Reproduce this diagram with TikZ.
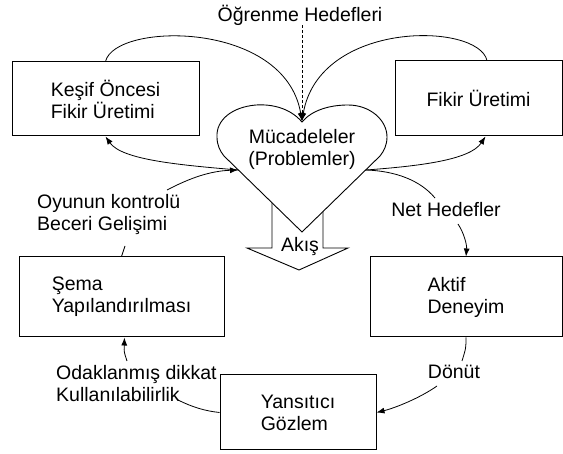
\documentclass[tikz,border=0pt]{standalone}
\usepackage{fontspec}
\setmainfont{Liberation Sans}
\usetikzlibrary{arrows.meta}
\begin{document}
\begin{tikzpicture}[x=1pt,y=-1pt,
  box/.style={draw, line width=1pt, align=left, inner sep=0pt, font=\fontsize{19.5}{22}\selectfont},
  lbl/.style={inner sep=0pt, font=\fontsize{19.5}{22}\selectfont},
  conn/.style={line width=0.8pt},
  arr/.style={conn, -{Latex[length=8pt,width=6pt]}}]
\useasboundingbox (0,0) rectangle (563,454);
% boxes
\node[box, minimum width=187pt, minimum height=74pt] (kesif) at (105.5,99) {Keşif Öncesi\\Fikir Üretimi};
\node[box, minimum width=167pt, minimum height=75pt] (fikir) at (478.5,98.5) {Fikir Üretimi};
\node[box, minimum width=205pt, minimum height=80pt] (sema) at (121.5,297) {Şema\\Yapılandırılması};
\node[box, minimum width=192pt, minimum height=80pt] (aktif) at (466,297) {Aktif\\Deneyim};
\node[box, minimum width=156pt, minimum height=75pt] (yans) at (298,412.5) {Yansıtıcı\\Gözlem};
% block arrow
\draw[line width=0.9pt, fill=white] (272,190) -- (272,248) -- (247,248) -- (299,270) -- (348,248) -- (323,248) -- (323,190) -- cycle;
\node[lbl] (akis) at (300,247) {Akış};
% heart
\draw[line width=0.9pt, fill=white] (302,122) .. controls (290,108) and (272,104) .. (256,105)
  .. controls (232,107) and (216,120) .. (217,137) .. controls (217,145) and (220,151) .. (224,156)
  -- (302,232) -- (380,156) .. controls (384,151) and (387,145) .. (387,137)
  .. controls (387,120) and (370,105) .. (348,105) .. controls (330,105) and (312,110) .. cycle;
\node[lbl, align=center] (muc) at (302,149) {Mücadeleler\\(Problemler)};
\coordinate (dip) at (302,121);
\coordinate (hl) at (238,170);
\coordinate (hr) at (366,170);
% labels
\node[lbl] (ogr) at (300,15) {Öğrenme Hedefleri};
\node[lbl, align=left, anchor=west] (oyun) at (37,214.5) {Oyunun kontrolü\\Beceri Gelişimi};
\node[lbl] (net) at (446,210) {Net Hedefler};
\node[lbl] (donut) at (454,372) {Dönüt};
\node[lbl, align=left, anchor=west] (odak) at (56,383.5) {Odaklanmış dikkat\\Kullanılabilirlik};
\coordinate (oy1) at (167,190);
\coordinate (bg) at (125,246);
\coordinate (nh1) at (435,198);
\coordinate (nh2) at (458,224);
\coordinate (dn1) at (462,361);
\coordinate (dn2) at (437,386);
\coordinate (ku1) at (178,400);
\coordinate (od1) at (127,361);
% connectors
\draw[conn, dash pattern=on 3pt off 2pt, -{Latex[length=8pt,width=6pt]}] ([xshift=2pt]ogr.south) -- (dip);
\draw[arr] (kesif.north) .. controls (115,22) and (285,20) .. (dip);
\draw[arr] ([xshift=8.5pt]fikir.north) .. controls (478,22) and (319,20) .. (dip);
\draw[arr] (hl) .. controls (180,165) and (122,160) .. (kesif.south);
\draw[arr] (oy1) .. controls (190,178) and (210,171) .. (hl);
\draw[arr] (hr) .. controls (420,166) and (470,160) .. ([xshift=7pt]fikir.south);
\draw[conn] (hr) .. controls (395,171) and (420,180) .. (nh1);
\draw[arr] (nh2) .. controls (464,233) and (467,245) .. (aktif.north);
\draw[conn] (sema.north) -- (bg);
\draw[conn] (aktif.south) .. controls (466,348) .. (dn1);
\draw[arr] (dn2) .. controls (420,398) and (395,408) .. (yans.east);
\draw[conn] (yans.west) .. controls (205,411) and (192,407) .. (ku1);
\draw[arr] (od1) .. controls (124,352) .. ([xshift=3pt]sema.south);
\end{tikzpicture}
\end{document}
